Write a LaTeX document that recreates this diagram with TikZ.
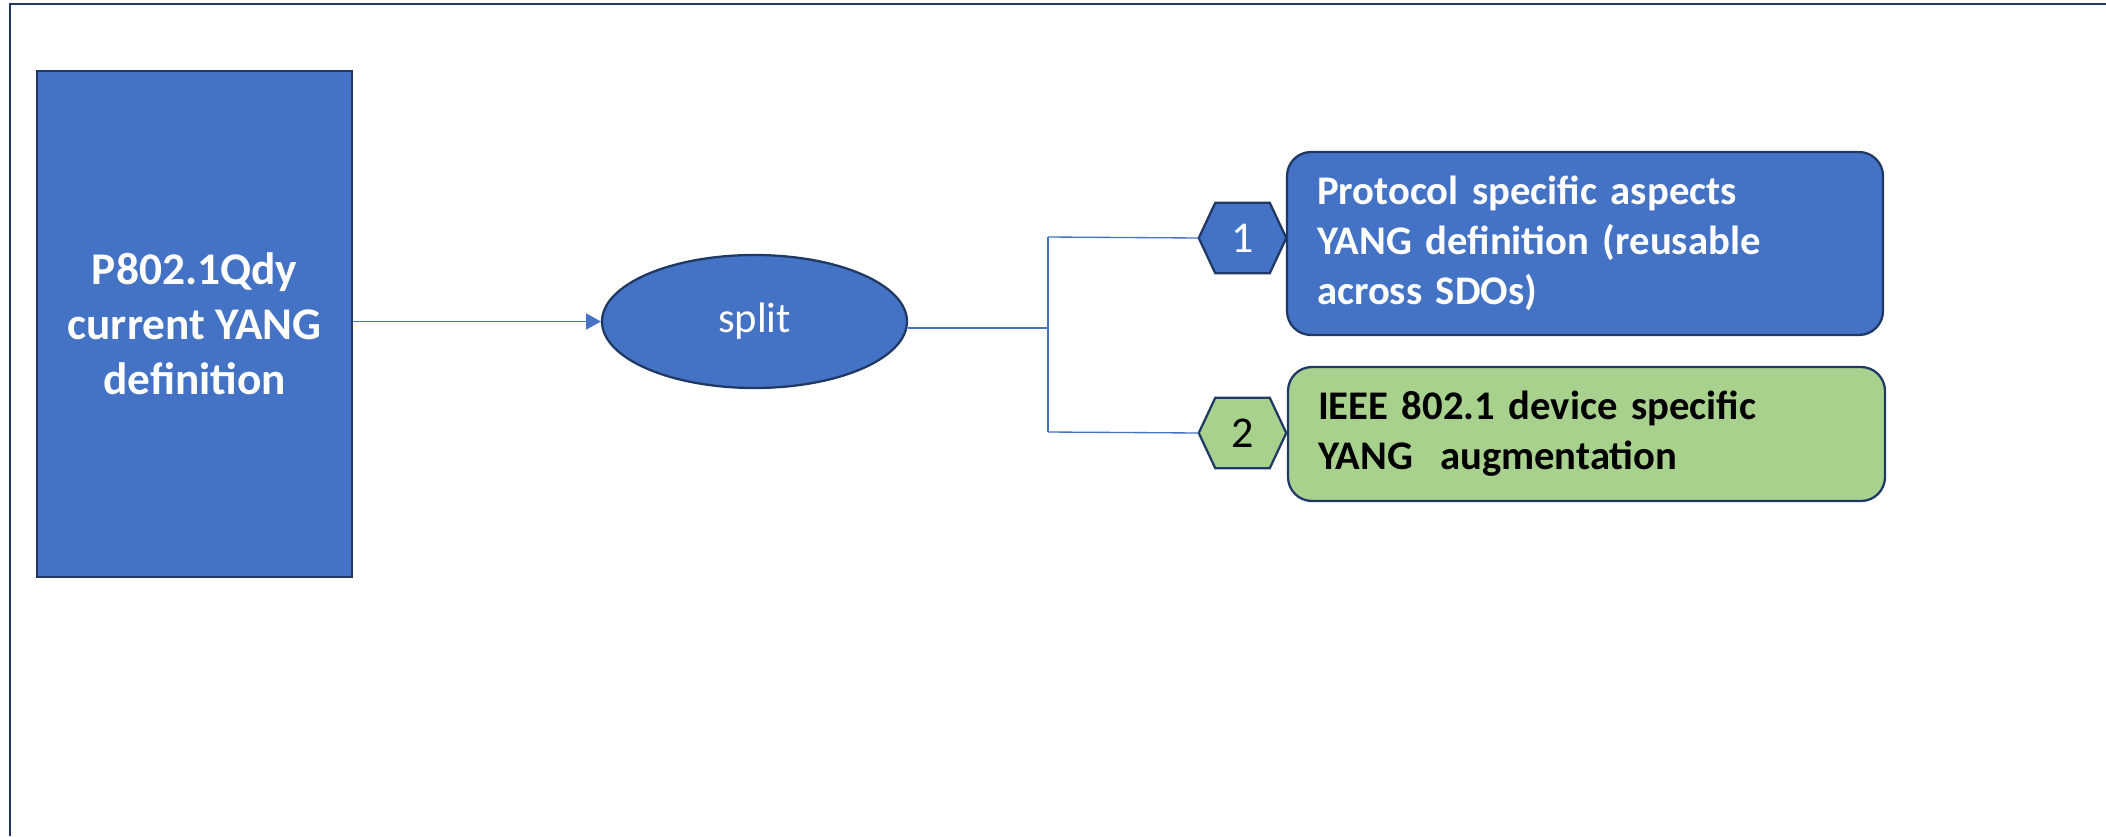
\documentclass[tikz,border=0pt]{standalone}
\usepackage{fontspec}
\setmainfont{Carlito}
\usetikzlibrary{arrows.meta,shapes.geometric,backgrounds}
\definecolor{accblue}{HTML}{4472C4}
\definecolor{navy}{HTML}{1F3864}
\definecolor{accgreen}{HTML}{A9D18E}
\newcommand\myhex[2]{\draw[shapeline,fill=#2] (#1.west) -- ([xshift=12.4pt]#1.north west) -- ([xshift=-12.4pt]#1.north east) -- (#1.east) -- ([xshift=-12.4pt]#1.south east) -- ([xshift=12.4pt]#1.south west) -- cycle;}
\begin{document}
\begin{tikzpicture}[x=0.75pt,y=-0.75pt,
  shapeline/.style={draw=navy, line width=1.7pt},
  conn/.style={draw=accblue, line width=1pt},
  framel/.style={draw=navy, line width=1.4pt},
  srcbox/.style={shapeline, fill=accblue, rectangle, inner sep=0pt,
    minimum width=236.25pt, minimum height=379.5pt, text=white, align=center,
    font=\bfseries\fontsize{34}{41.25}\selectfont},
  splitnode/.style={shapeline, fill=accblue, ellipse, inner sep=0pt,
    minimum width=228.75pt, minimum height=99.75pt, text=white,
    font=\fontsize{32}{38}\selectfont},
  hexnode/.style={rectangle, inner sep=0pt, minimum width=65.25pt,
    minimum height=52.5pt, font=\fontsize{33}{38}\selectfont},
  resbox/.style={shapeline, rounded corners=18pt, inner xsep=22.5pt, inner ysep=0pt,
    align=left, font=\bfseries\fontsize{30.5}{37.5}\selectfont}
]
\useasboundingbox (0,0) rectangle (2106,836);
\draw[framel] (10,836) -- (10,4) -- (2106,4);

\node[srcbox] (src) at (194.5,324) {P802.1Qdy\\current YANG\\definition};
\node[splitnode] (split) at (754.5,321.5) {split};
\node[hexnode, text=white] (h1) at (1242.5,238) {1};
\node[hexnode, text=black] (h2) at (1242.5,433) {2};
\node[resbox, fill=accblue, text=white, text width=402pt, minimum height=137.25pt]
  (r1) at (1585,243.5) {Protocol specific aspects\\YANG definition (reusable\\across SDOs)};
\node[resbox, fill=accgreen, text=black, text width=402.75pt, minimum height=100.5pt]
  (r2) at (1586.5,434) {IEEE 802.1 device specific\\YANG\ \ augmentation};

\begin{scope}[on background layer]
\myhex{h1}{accblue}
\myhex{h2}{accgreen}
\end{scope}

\coordinate (j) at (1048,328);
\coordinate (jt) at (1048,237);
\coordinate (jb) at (1048,432);
\draw[conn, -{Triangle[length=11pt,width=12pt]}] (src.east |- split.west) -- (split.west);
\draw[conn] (split.east |- j) -- (j);
\draw[conn] (jt) -- (jb);
\draw[conn] (jt) -- (h1.west);
\draw[conn] (jb) -- (h2.west);
\end{tikzpicture}
\end{document}
